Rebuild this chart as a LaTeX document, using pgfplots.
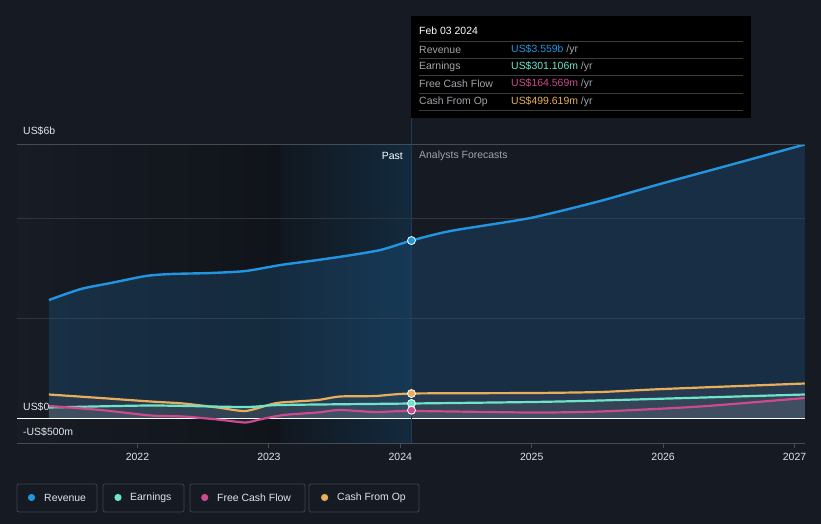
\documentclass[border=0pt]{standalone}
\usepackage{pgfplots}
\pgfplotsset{compat=1.18}
\usepackage{fontspec}
\setmainfont{Liberation Sans}
\definecolor{bg}{RGB}{21,26,35}
\definecolor{revc}{RGB}{35,148,223}
\definecolor{earnc}{RGB}{110,228,200}
\definecolor{fcfc}{RGB}{204,75,140}
\definecolor{cfoc}{RGB}{233,174,91}
\definecolor{revfill}{RGB}{30,85,130}
\definecolor{smfill}{RGB}{150,150,160}
\definecolor{gridc}{RGB}{48,54,63}
\definecolor{topc}{RGB}{70,76,85}
\definecolor{tickc}{RGB}{225,228,232}
\definecolor{labc}{RGB}{225,228,232}
\definecolor{ttgray}{RGB}{160,164,170}
\definecolor{ttsep}{RGB}{60,60,60}
\definecolor{legbord}{RGB}{62,68,78}
\definecolor{leftA}{RGB}{23,28,37}
\definecolor{leftB}{RGB}{16,20,26}
\definecolor{pastA}{RGB}{17,23,31}
\definecolor{pastB}{RGB}{19,42,62}
\definecolor{vline}{RGB}{30,60,85}
\newcommand{\fs}{\fontsize{10.5}{12}\selectfont}
\begin{document}
\begin{tikzpicture}
\begin{scope}[x=1bp,y=-1bp]
\fill[bg] (0,0) rectangle (821,524);
\end{scope}
\begin{axis}[at={(17bp,-443.5bp)}, anchor=south west, scale only axis,
  width=788bp, height=299.2bp,
  xmin=2021.083, xmax=2027.08, ymin=-0.5, ymax=5.484,
  axis line style={draw=none}, ytick=\empty,
  xtick={2022,2023,2024,2025,2026,2027},
  xticklabels={2022,2023,2024,2025,2026,2027},
  xticklabel style={font=\fs, text=tickc, yshift=-2bp},
  /pgf/number format/assume math mode=true,
  tick style={draw=topc, line width=0.8bp}, major tick length=4bp,
  xtick pos=bottom, tick align=outside]
\fill[left color=leftA, right color=leftB] (axis cs:2021.083,-0.5) rectangle (axis cs:2023.09,5.484);
\fill[left color=pastA, right color=pastB] (axis cs:2023.09,-0.5) rectangle (axis cs:2024.085,5.484);
\draw[gridc, line width=0.8bp] (axis cs:2021.083,2) -- (axis cs:2027.08,2);
\draw[gridc, line width=0.8bp] (axis cs:2021.083,4) -- (axis cs:2027.08,4);
\addplot[draw=none, fill=revfill, fill opacity=0.35, smooth, tension=0.4] table {
2021.326 2.37
2021.569 2.59
2021.797 2.71
2022.063 2.85
2022.253 2.89
2022.557 2.91
2022.823 2.95
2023.089 3.07
2023.317 3.15
2023.583 3.25
2023.849 3.37
2024.085 3.559
2024.381 3.75
2024.989 4.01
2025.521 4.35
2025.977 4.69
2026.509 5.07
2027.078 5.48
} \closedcycle;
\addplot[draw=none, fill=smfill, fill opacity=0.12, smooth, tension=0.4] table {
2021.326 0.48
2021.72 0.41
2022.10 0.34
2022.35 0.30
2022.61 0.22
2022.82 0.15
2023.01 0.28
2023.09 0.32
2023.37 0.37
2023.54 0.44
2023.81 0.45
2024.085 0.50
2025.0 0.51
2025.52 0.53
2026.0 0.59
2027.078 0.70
} \closedcycle;
\addplot[draw=none, fill=smfill, fill opacity=0.12, smooth, tension=0.4] table {
2021.326 0.22
2022.10 0.26
2022.82 0.23
2023.09 0.27
2024.085 0.30
2025.0 0.33
2025.52 0.36
2027.078 0.48
} \closedcycle;
\addplot[draw=none, fill=smfill, fill opacity=0.12, smooth, tension=0.4] table {
2021.326 0.25
2021.72 0.17
2022.10 0.06
2022.35 0.04
2022.61 -0.02
2022.82 -0.08
2022.93 -0.02
2023.11 0.07
2023.37 0.12
2023.54 0.17
2023.81 0.13
2024.085 0.15
2025.0 0.12
2025.52 0.14
2026.28 0.24
2027.078 0.41
} \closedcycle;
\draw[white, line width=1.2bp] (axis cs:2021.083,0) -- (axis cs:2027.08,0);
\addplot[revc, line width=2.4bp, smooth, tension=0.4] table {
2021.326 2.37
2021.569 2.59
2021.797 2.71
2022.063 2.85
2022.253 2.89
2022.557 2.91
2022.823 2.95
2023.089 3.07
2023.317 3.15
2023.583 3.25
2023.849 3.37
2024.085 3.559
2024.381 3.75
2024.989 4.01
2025.521 4.35
2025.977 4.69
2026.509 5.07
2027.078 5.48
};
\addplot[cfoc, line width=2.2bp, smooth, tension=0.4] table {
2021.326 0.48
2021.72 0.41
2022.10 0.34
2022.35 0.30
2022.61 0.22
2022.82 0.15
2023.01 0.28
2023.09 0.32
2023.37 0.37
2023.54 0.44
2023.81 0.45
2024.085 0.50
2025.0 0.51
2025.52 0.53
2026.0 0.59
2027.078 0.70
};
\addplot[earnc, line width=2.2bp, smooth, tension=0.4] table {
2021.326 0.22
2022.10 0.26
2022.82 0.23
2023.09 0.27
2024.085 0.30
2025.0 0.33
2025.52 0.36
2027.078 0.48
};
\addplot[fcfc, line width=2.2bp, smooth, tension=0.4] table {
2021.326 0.25
2021.72 0.17
2022.10 0.06
2022.35 0.04
2022.61 -0.02
2022.82 -0.08
2022.93 -0.02
2023.11 0.07
2023.37 0.12
2023.54 0.17
2023.81 0.13
2024.085 0.15
2025.0 0.12
2025.52 0.14
2026.28 0.24
2027.078 0.41
};
\draw[topc, line width=0.8bp] (axis cs:2021.083,5.484) -- (axis cs:2027.08,5.484);
\draw[topc, line width=0.8bp] (axis cs:2021.083,-0.5) -- (axis cs:2027.08,-0.5);
\end{axis}
\begin{scope}[x=1bp,y=-1bp]
\draw[vline, line width=0.8bp] (411,118) -- (411,443);
\end{scope}
\begin{axis}[at={(17bp,-443.5bp)}, anchor=south west, scale only axis,
  width=788bp, height=299.2bp,
  xmin=2021.083, xmax=2027.08, ymin=-0.5, ymax=5.484,
  axis lines=none, clip=false]
\addplot[only marks, mark=*, mark size=4bp, mark options={fill=revc, draw=white, line width=0.8bp}] coordinates {(2024.085,3.559)};
\addplot[only marks, mark=*, mark size=4bp, mark options={fill=cfoc, draw=white, line width=0.8bp}] coordinates {(2024.085,0.4996)};
\addplot[only marks, mark=*, mark size=4bp, mark options={fill=earnc, draw=white, line width=0.8bp}] coordinates {(2024.085,0.3011)};
\addplot[only marks, mark=*, mark size=4bp, mark options={fill=fcfc, draw=white, line width=0.8bp}] coordinates {(2024.085,0.1646)};
\end{axis}
\begin{scope}[x=1bp,y=-1bp]
% y labels
\node[anchor=west, text=labc, font=\fs, inner sep=0] at (23,131) {US\$6b};
\node[anchor=west, text=labc, font=\fs, inner sep=0] at (23,407) {US\$0};
\node[anchor=west, text=labc, font=\fs, inner sep=0] at (23,432) {-US\$500m};
% past / forecast
\node[anchor=east, text=white, font=\fs, inner sep=0] at (403,156) {Past};
\node[anchor=west, text=ttgray, font=\fs, inner sep=0] at (419,156) {Analysts Forecasts};
% tooltip
\fill[black] (411,16) rectangle (751,118);
\node[anchor=west, text=white, font=\fs, inner sep=0] at (419,31) {Feb 03 2024};
\foreach \yy in {41.5,58,75.5,93,110.5} {\draw[ttsep, line width=0.8bp] (419,\yy) -- (743,\yy);}
\node[anchor=west, text=ttgray, font=\fs, inner sep=0] at (419,49.5) {Revenue};
\node[anchor=west, text=ttgray, font=\fs, inner sep=0] at (419,66.5) {Earnings};
\node[anchor=west, text=ttgray, font=\fs, inner sep=0] at (419,84) {Free Cash Flow};
\node[anchor=west, text=ttgray, font=\fs, inner sep=0] at (419,101.5) {Cash From Op};
\node[anchor=west, font=\fs, inner sep=0] at (511,49.5) {\textcolor{revc}{US\$3.559b} \textcolor{ttgray}{/yr}};
\node[anchor=west, font=\fs, inner sep=0] at (511,66.5) {\textcolor{earnc}{US\$301.106m} \textcolor{ttgray}{/yr}};
\node[anchor=west, font=\fs, inner sep=0] at (511,84) {\textcolor{fcfc}{US\$164.569m} \textcolor{ttgray}{/yr}};
\node[anchor=west, font=\fs, inner sep=0] at (511,101.5) {\textcolor{cfoc}{US\$499.619m} \textcolor{ttgray}{/yr}};
% legend
\draw[legbord, line width=0.8bp, rounded corners=2bp] (17,484) rectangle (97,512);
\fill[revc] (31.5,497.5) circle (3.6);
\node[anchor=west, text=labc, font=\fs, inner sep=0] at (44,497.5) {Revenue};
\draw[legbord, line width=0.8bp, rounded corners=2bp] (103,484) rectangle (184,512);
\fill[earnc] (118,497.5) circle (3.6);
\node[anchor=west, text=labc, font=\fs, inner sep=0] at (130,497.5) {Earnings};
\draw[legbord, line width=0.8bp, rounded corners=2bp] (190,484) rectangle (305,512);
\fill[fcfc] (204.7,497.5) circle (3.6);
\node[anchor=west, text=labc, font=\fs, inner sep=0] at (217,497.5) {Free Cash Flow};
\draw[legbord, line width=0.8bp, rounded corners=2bp] (309,484) rectangle (419,512);
\fill[cfoc] (324.6,497.5) circle (3.6);
\node[anchor=west, text=labc, font=\fs, inner sep=0] at (337,497.5) {Cash From Op};
\end{scope}
\end{tikzpicture}
\end{document}
